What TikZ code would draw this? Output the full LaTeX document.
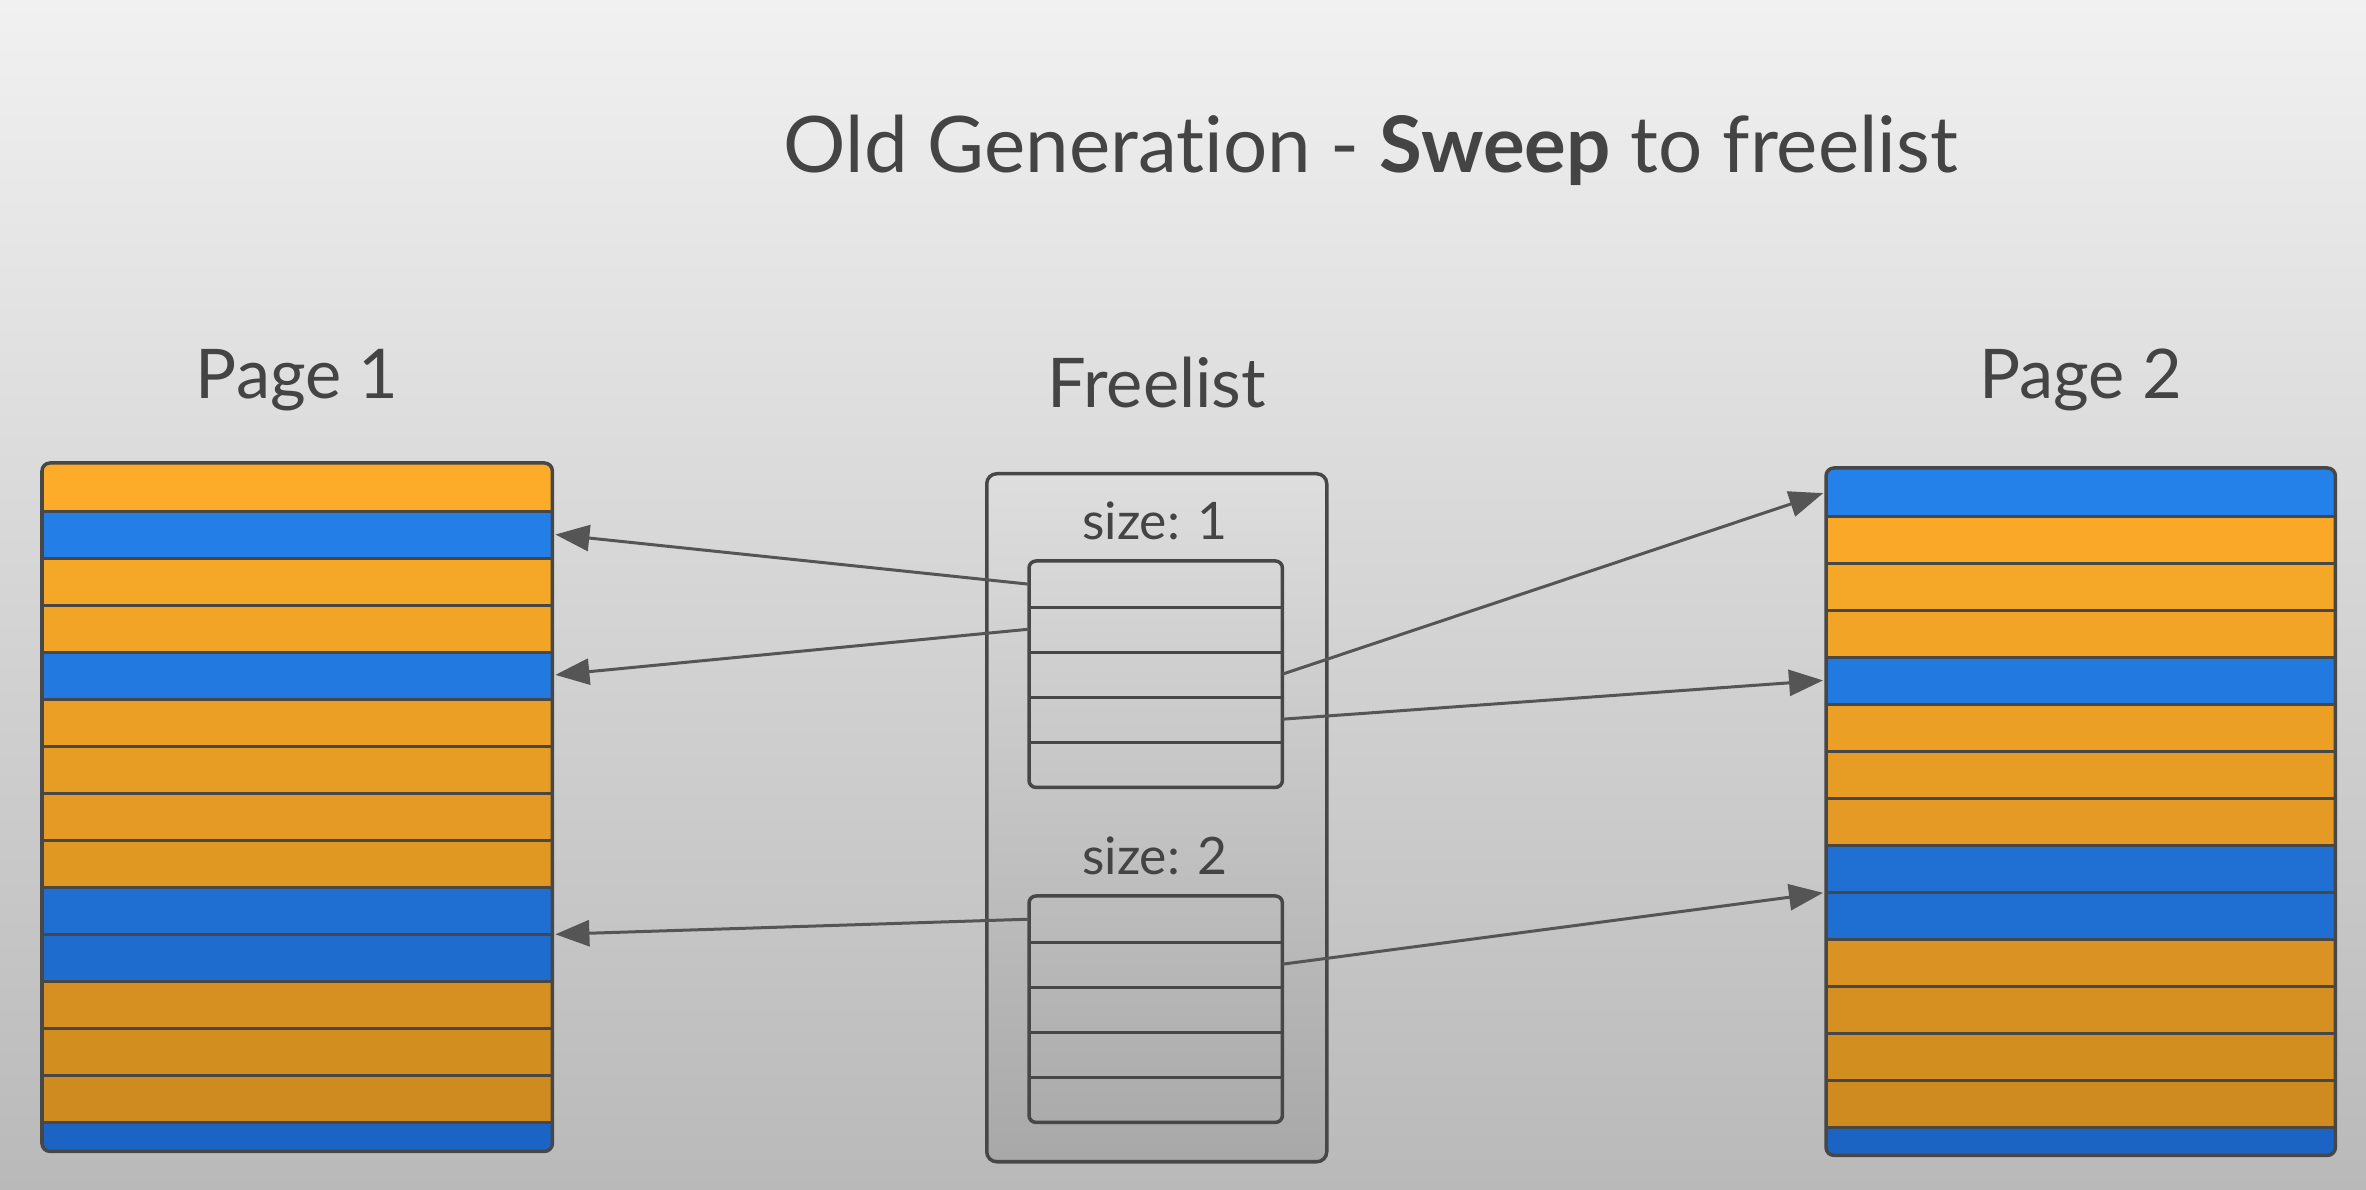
\documentclass[tikz,border=0pt]{standalone}
\usepackage{fontspec}
\setmainfont{Lato}[Ligatures=NoCommon]
\usetikzlibrary{arrows.meta, positioning}

\definecolor{bgtop}{HTML}{F1F1F1}
\definecolor{bgmid}{HTML}{E3E3E3}
\definecolor{bgbot}{HTML}{B9B9B9}
\definecolor{orgtop}{HTML}{FCAC28}
\definecolor{orgbot}{HTML}{CB881F}
\definecolor{blutop}{HTML}{2481EA}
\definecolor{blubot}{HTML}{1C63C2}
\definecolor{inkgray}{HTML}{474747}
\definecolor{arrgray}{HTML}{555555}
\definecolor{txtgray}{HTML}{444444}
\definecolor{fltop}{HTML}{DEDEDE}
\definecolor{flbot}{HTML}{A8A8A8}

\begin{document}
\begin{tikzpicture}[
    ink/.style={draw=inkgray, line width=0.035cm},
    lbl/.style={text=txtgray, font=\fontsize{19.5}{23}\selectfont},
    sublbl/.style={text=txtgray, font=\fontsize{14.7}{18}\selectfont},
    holder/.style={rectangle, inner sep=0pt, anchor=north west},
    cell/.style={rectangle, inner sep=0pt, anchor=north west,
                 minimum width=#1, minimum height=0.47cm},
    slot/.style={rectangle, inner sep=0pt, anchor=north west,
                 minimum width=2.52cm, minimum height=0.45cm},
    arr/.style={-{Triangle[length=0.34cm, width=0.26cm]}, draw=arrgray,
                line width=0.03cm, shorten >=0.03cm},
  ]
  % background
  \fill[top color=bgtop, middle color=bgmid, bottom color=bgbot]
    (0,0) rectangle (23.66,-11.90);

  \node[text=txtgray, font=\fontsize{22.2}{27}\selectfont] (title)
    at (13.71,-1.50) {Old Generation - \textbf{Sweep} to freelist};

  % page 1
  \node[holder, minimum width=5.09cm, minimum height=6.87cm]
    (page1) at (0.42,-4.63) {};
  \node[lbl, above=0.40cm of page1] (name1) {Page 1};
  \begin{scope}
    \clip[rounded corners=0.08cm] (page1.north west) rectangle (page1.south east);
    \foreach \c [count=\i] in {org,blu,org,org,blu,org,org,org,org,blu,blu,org,org,org,blu} {
      \pgfmathtruncatemacro{\p}{100-(\i-1)*7}
      \node[cell=5.09cm, fill={\c top!\p!\c bot}] (p1r\i)
        at (0.42,{-4.63-0.47*(\i-1)}) {};
    }
  \end{scope}
  \foreach \i in {1,...,14}
    \draw[ink] (p1r\i.south west) -- (p1r\i.south east);
  \draw[ink, rounded corners=0.08cm] (page1.north west) rectangle (page1.south east);

  % page 2
  \node[holder, minimum width=5.08cm, minimum height=6.86cm]
    (page2) at (18.26,-4.68) {};
  \node[lbl, above=0.45cm of page2] (name2) {Page 2};
  \begin{scope}
    \clip[rounded corners=0.08cm] (page2.north west) rectangle (page2.south east);
    \foreach \c [count=\i] in {blu,org,org,org,blu,org,org,org,blu,blu,org,org,org,org,blu} {
      \pgfmathtruncatemacro{\p}{100-(\i-1)*7}
      \node[cell=5.08cm, fill={\c top!\p!\c bot}] (p2r\i)
        at (18.26,{-4.68-0.47*(\i-1)}) {};
    }
  \end{scope}
  \foreach \i in {1,...,14}
    \draw[ink] (p2r\i.south west) -- (p2r\i.south east);
  \draw[ink, rounded corners=0.08cm] (page2.north west) rectangle (page2.south east);

  % freelist
  \node[holder, minimum width=3.40cm, minimum height=6.88cm, draw=inkgray,
        line width=0.035cm, rounded corners=0.1cm, top color=fltop,
        bottom color=flbot] (free) at (9.85,-4.72) {};
  \node[lbl, above=0.52cm of free] (name3) {Freelist};
  \node[sublbl] (size1) at (11.55,-5.21) {size: 1};
  \node[sublbl] (size2) at (11.55,-8.56) {size: 2};
  \foreach \i in {1,...,5} {
    \node[slot] (f1r\i) at (10.29,{-5.61-0.45*(\i-1)}) {};
    \node[slot] (f2r\i) at (10.29,{-8.96-0.45*(\i-1)}) {};
  }
  \foreach \i in {1,...,4} {
    \draw[ink] (f1r\i.south west) -- (f1r\i.south east);
    \draw[ink] (f2r\i.south west) -- (f2r\i.south east);
  }
  \draw[ink, rounded corners=0.07cm] (f1r1.north west) rectangle (f1r5.south east);
  \draw[ink, rounded corners=0.07cm] (f2r1.north west) rectangle (f2r5.south east);

  % sweep pointers
  \draw[arr] (f1r1.west) -- (p1r2.east);
  \draw[arr] (f1r2.west) -- (p1r5.east);
  \draw[arr] (f2r1.west) -- (p1r10.south east);
  \draw[arr] (f1r3.east) -- (p2r1.west);
  \draw[arr] (f1r4.east) -- (p2r5.west);
  \draw[arr] (f2r2.east) -- (p2r9.south west);
\end{tikzpicture}
\end{document}
